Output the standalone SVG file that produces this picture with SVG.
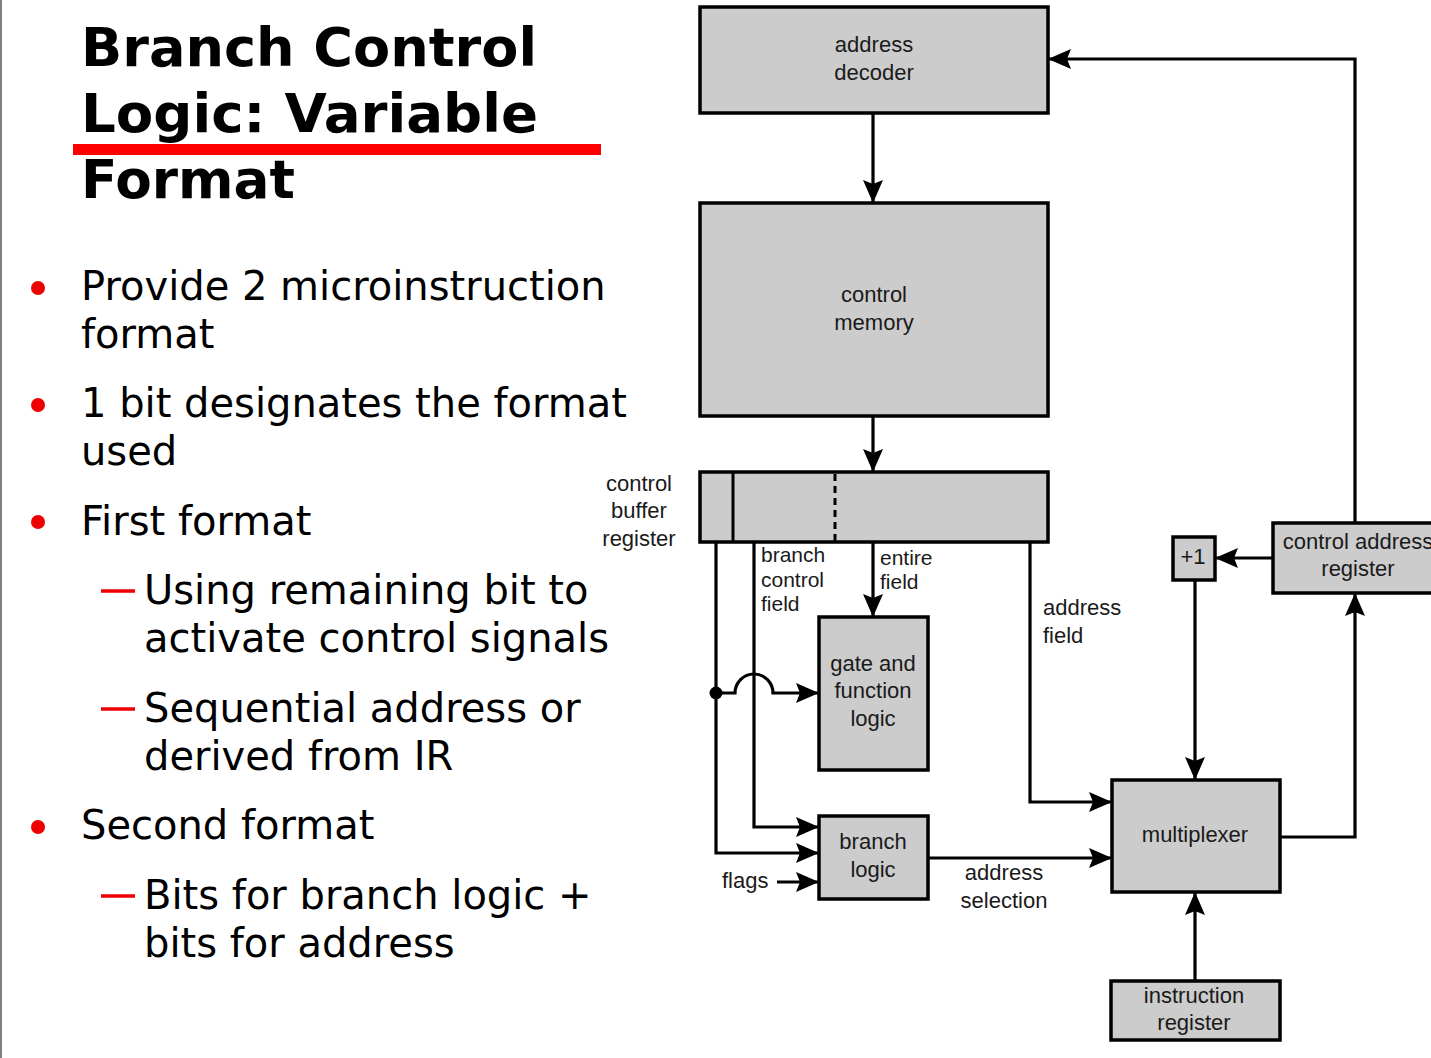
<svg xmlns="http://www.w3.org/2000/svg" width="1431" height="1058" viewBox="0 0 1431 1058">
<defs>
<style>
.title{font-family:"DejaVu Sans",Verdana,sans-serif;font-weight:bold;font-size:54px;fill:#000}
.body{font-family:"DejaVu Sans",Verdana,sans-serif;font-size:40px;fill:#000}
.box{fill:#cccccc;stroke:#000;stroke-width:3.5}
.lbl{font-family:"Liberation Sans",Arial,sans-serif;font-size:22px;fill:#1a1a1a}
.sm{font-family:"Liberation Sans",Arial,sans-serif;font-size:21px;fill:#1a1a1a}
.c{text-anchor:middle}
.wire{fill:none;stroke:#000;stroke-width:3.2}
.arr{marker-end:url(#ah)}
.bullet{fill:#ee0000}
.dash{stroke:#ee0000;stroke-width:3.5}
</style>
<marker id="ah" markerUnits="userSpaceOnUse" markerWidth="23" markerHeight="20" viewBox="0 0 23 20" refX="22" refY="10" orient="auto">
<path d="M0,0 L23,10 L0,20 L4,10 Z" fill="#000"/>
</marker>
</defs>
<rect x="0" y="0" width="1431" height="1058" fill="#fff"/>
<line x1="1" y1="0" x2="1" y2="1058" stroke="#555" stroke-width="1.5"/>

<g id="slide-text">
<text class="title" x="81" y="66" textLength="456" lengthAdjust="spacingAndGlyphs">Branch Control</text>
<text class="title" x="81" y="132" textLength="457" lengthAdjust="spacingAndGlyphs">Logic: Variable</text>
<rect x="73" y="144" width="528" height="11" fill="#ff0000"/>
<text class="title" x="81" y="198" textLength="214" lengthAdjust="spacingAndGlyphs">Format</text>

<circle class="bullet" cx="38" cy="288" r="7"/>
<text class="body" x="81" y="300">Provide 2 microinstruction</text>
<text class="body" x="81" y="348">format</text>
<circle class="bullet" cx="38" cy="405" r="7"/>
<text class="body" x="81" y="417">1 bit designates the format</text>
<text class="body" x="81" y="465">used</text>
<circle class="bullet" cx="38" cy="522" r="7"/>
<text class="body" x="81" y="535">First format</text>
<line class="dash" x1="101" y1="591" x2="135" y2="591"/>
<text class="body" x="144" y="604">Using remaining bit to</text>
<text class="body" x="144" y="652">activate control signals</text>
<line class="dash" x1="101" y1="709" x2="135" y2="709"/>
<text class="body" x="144" y="722">Sequential address or</text>
<text class="body" x="144" y="770">derived from IR</text>
<circle class="bullet" cx="38" cy="827" r="7"/>
<text class="body" x="81" y="839">Second format</text>
<line class="dash" x1="101" y1="896" x2="135" y2="896"/>
<text class="body" x="144" y="909">Bits for branch logic +</text>
<text class="body" x="144" y="957">bits for address</text>
</g>

<g id="connectors">
<path class="wire arr" d="M873,113 V202"/>
<path class="wire arr" d="M873,416 V471"/>
<path class="wire arr" d="M873,542 V616"/>
<path class="wire arr" d="M716,542 V853 H818"/>
<path class="wire arr" d="M754,542 V827 H818"/>
<path class="wire arr" d="M716,693 H735 A19,19 0 0 1 773,693 H818"/>
<path class="wire arr" d="M777,882 H818"/>
<path class="wire arr" d="M928,858 H1111"/>
<path class="wire arr" d="M1030,542 V802 H1111"/>
<path class="wire arr" d="M1280,837 H1355 V594"/>
<path class="wire arr" d="M1273,558 H1216"/>
<path class="wire arr" d="M1355,523 V59 H1049"/>
<path class="wire arr" d="M1195,580 V779"/>
<path class="wire arr" d="M1195,981 V893"/>
<circle cx="716" cy="693" r="6.5" fill="#000"/>
</g>

<g id="labels">
<text class="lbl c" x="639" y="491">control</text>
<text class="lbl c" x="639" y="518">buffer</text>
<text class="lbl c" x="639" y="546">register</text>
<text class="sm" x="761" y="562">branch</text>
<text class="sm" x="761" y="587">control</text>
<text class="sm" x="761" y="611">field</text>
<text class="sm" x="880" y="565">entire</text>
<text class="sm" x="880" y="589">field</text>
<text class="lbl" x="1043" y="615">address</text>
<text class="lbl" x="1043" y="643">field</text>
<text class="lbl" x="722" y="888">flags</text>
<text class="lbl c" x="1004" y="880">address</text>
<text class="lbl c" x="1004" y="908">selection</text>
</g>

<g id="address-decoder">
<rect class="box" x="700" y="7" width="348" height="106"/>
<text class="lbl c" x="874" y="52">address</text>
<text class="lbl c" x="874" y="80">decoder</text>
</g>
<g id="control-memory">
<rect class="box" x="700" y="203" width="348" height="213"/>
<text class="lbl c" x="874" y="302">control</text>
<text class="lbl c" x="874" y="330">memory</text>
</g>
<g id="control-buffer-register">
<rect class="box" x="700" y="472" width="348" height="70"/>
<line x1="733" y1="472" x2="733" y2="542" stroke="#000" stroke-width="3"/>
<line x1="835" y1="474" x2="835" y2="542" stroke="#000" stroke-width="3" stroke-dasharray="7,5"/>
</g>
<g id="gate-function-logic">
<rect class="box" x="819" y="617" width="109" height="153"/>
<text class="lbl c" x="873" y="671">gate and</text>
<text class="lbl c" x="873" y="698">function</text>
<text class="lbl c" x="873" y="726">logic</text>
</g>
<g id="branch-logic">
<rect class="box" x="819" y="816" width="109" height="83"/>
<text class="lbl c" x="873" y="849">branch</text>
<text class="lbl c" x="873" y="877">logic</text>
</g>
<g id="multiplexer">
<rect class="box" x="1112" y="780" width="168" height="112"/>
<text class="lbl c" x="1195" y="842">multiplexer</text>
</g>
<g id="instruction-register">
<rect class="box" x="1111" y="981" width="169" height="59"/>
<text class="lbl c" x="1194" y="1003">instruction</text>
<text class="lbl c" x="1194" y="1030">register</text>
</g>
<g id="plus-one">
<rect class="box" x="1173" y="537" width="42" height="43"/>
<text class="lbl c" x="1193" y="564">+1</text>
</g>
<g id="control-address-register">
<rect class="box" x="1273" y="523" width="172" height="70"/>
<text class="lbl c" x="1358" y="549">control address</text>
<text class="lbl c" x="1358" y="576">register</text>
</g>
</svg>
